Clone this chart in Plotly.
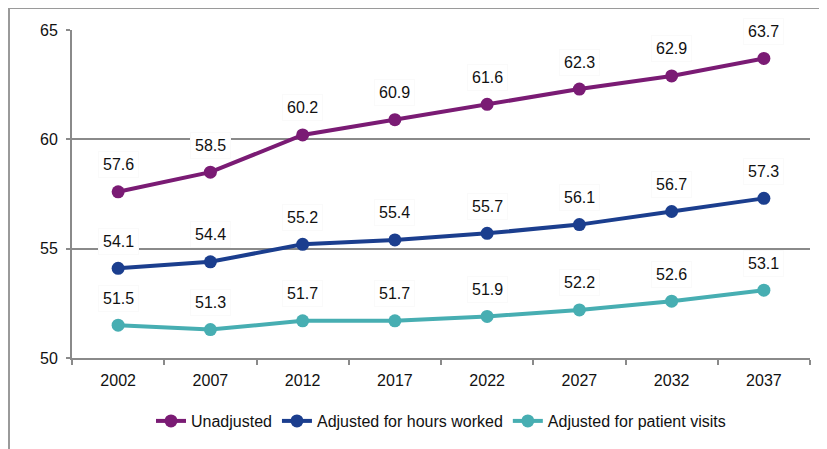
import plotly.graph_objects as go

years = ["2002", "2007", "2012", "2017", "2022", "2027", "2032", "2037"]
unadjusted = [57.6, 58.5, 60.2, 60.9, 61.6, 62.3, 62.9, 63.7]
adj_hours = [54.1, 54.4, 55.2, 55.4, 55.7, 56.1, 56.7, 57.3]
adj_visits = [51.5, 51.3, 51.7, 51.7, 51.9, 52.2, 52.6, 53.1]

series = [
    ("Unadjusted", unadjusted, "#7A1B74"),
    ("Adjusted for hours worked", adj_hours, "#1B3E8E"),
    ("Adjusted for patient visits", adj_visits, "#47AEB2"),
]

FONT = "Liberation Sans, Arial"

W, H = 827, 449
ml, mt = 64, 22
pw, ph = 738, 328
mr, mb = W - ml - pw, H - mt - ph

fig = go.Figure()
annotations = []
for name, vals, col in series:
    fig.add_trace(go.Scatter(
        x=years, y=vals, name=name, mode="lines+markers",
        line=dict(color=col, width=4),
        marker=dict(color=col, size=13),
    ))
    for i, v in enumerate(vals):
        annotations.append(dict(
            x=i, y=v, xref="x", yref="y", text=f"{v:.1f}", showarrow=False,
            yshift=27, bgcolor="white", borderpad=4, bordercolor="#fafafa", borderwidth=1,
            font=dict(family=FONT, size=16, color="#111"),
        ))

grid = "#8a8a8a"
shapes = [
    dict(type="line", xref="paper", yref="paper",
         x0=(1 - ml) / pw, x1=(1 - ml) / pw,
         y0=1 + mt / ph, y1=-(H + 10 - mt - ph) / ph,
         line=dict(color="#9a9a9a", width=2)),
    dict(type="line", xref="paper", yref="paper",
         x0=(1 - ml) / pw, x1=(W + 10 - ml) / pw,
         y0=1 + mt / ph, y1=1 + mt / ph,
         line=dict(color="#9a9a9a", width=2)),
]

fig.update_layout(
    width=W, height=H,
    margin=dict(l=ml, r=mr, t=mt, b=mb, autoexpand=False),
    plot_bgcolor="white", paper_bgcolor="white",
    font=dict(family=FONT, size=16, color="#111"),
    showlegend=True,
    legend=dict(orientation="h", x=0.5, xanchor="center", y=-(413 - mt - ph) / ph, yanchor="middle",
                font=dict(size=16), itemwidth=30, tracegroupgap=0),
    annotations=annotations,
    shapes=shapes,
    xaxis=dict(type="category", tickson="boundaries", ticks="outside", ticklen=5,
               tickcolor=grid, tickwidth=2, showline=True, linecolor=grid, linewidth=2,
               showgrid=False, range=[-0.5, 7.5], automargin=False, ticklabelstandoff=7),
    yaxis=dict(range=[50, 65], dtick=5, ticks="outside", ticklen=4, tickcolor=grid,
               tickwidth=2, showline=True, linecolor=grid, linewidth=2,
               showgrid=True, gridcolor=grid, gridwidth=2, zeroline=False,
               ticklabelstandoff=5, automargin=False),
)

fig.write_html("out.html")
